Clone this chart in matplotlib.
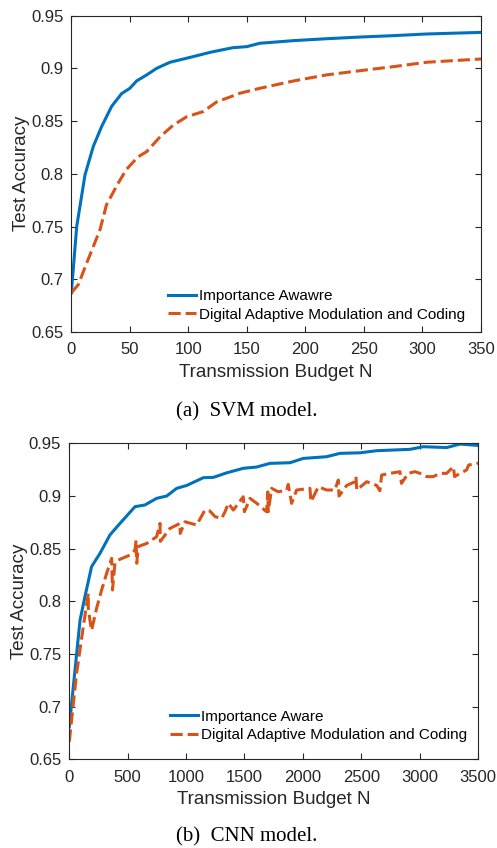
import matplotlib
matplotlib.use("Agg")
import matplotlib.pyplot as plt

# SVM model (top panel)
svm_n_aware = [0, 4.6, 11.7, 18.8, 26, 34.5, 43, 50, 55.8, 64.4, 73, 84.3, 104, 118.5, 138, 150, 161, 190, 218, 246.6, 275, 303.6, 350]
svm_acc_aware = [0.687, 0.75, 0.799, 0.826, 0.845, 0.864, 0.876, 0.881, 0.888, 0.8937, 0.900, 0.9057, 0.911, 0.9151, 0.9195, 0.9205, 0.9237, 0.9262, 0.928, 0.9296, 0.9309, 0.9325, 0.934]
svm_n_digital = [0, 6, 13, 18.8, 24.5, 30, 40, 47, 57, 64.4, 75.8, 87, 98.5, 112.8, 124, 144, 161, 190, 218, 246.6, 275, 303.6, 350]
svm_acc_digital = [0.687, 0.695, 0.715, 0.731, 0.747, 0.7705, 0.791, 0.804, 0.816, 0.821, 0.835, 0.846, 0.854, 0.859, 0.868, 0.8763, 0.881, 0.888, 0.8937, 0.8977, 0.9015, 0.9057, 0.9088]

# CNN model (bottom panel)
cnn_n_aware = [0, 49, 92, 134, 191, 263, 348, 434, 563, 648, 748, 834, 920, 1005, 1148, 1234, 1348, 1490, 1604, 1719, 1890, 2004, 2204, 2318, 2490, 2632, 2918, 3032, 3232, 3346, 3500]
cnn_acc_aware = [0.681, 0.735, 0.782, 0.8045, 0.833, 0.8456, 0.863, 0.874, 0.8899, 0.8915, 0.8978, 0.900, 0.9073, 0.910, 0.9174, 0.9177, 0.922, 0.9263, 0.9275, 0.931, 0.9316, 0.9357, 0.9373, 0.9405, 0.941, 0.943, 0.9443, 0.9468, 0.946, 0.9493, 0.948]
cnn_n_digital = [0, 63, 120, 163, 163, 177, 191, 234, 277, 320, 363, 370, 391, 420, 520, 563, 572, 578, 590,
                 663, 748, 777, 780, 862, 948, 950, 991, 1091, 1162, 1205, 1248, 1305, 1334, 1362, 1405, 1490, 1500,
                 1548, 1605, 1690, 1700, 1704, 1733, 1790, 1862, 1875, 1904, 1947, 2061, 2070, 2133, 2204, 2275,
                 2304, 2310, 2375, 2447, 2455, 2462, 2547, 2633, 2660, 2675, 2746, 2832, 2845, 2903, 2960, 3003,
                 3061, 3117, 3175, 3232, 3289, 3300, 3346, 3403, 3420, 3489, 3500]
cnn_acc_digital = [0.667, 0.732, 0.776, 0.8077, 0.7937, 0.782, 0.7725, 0.7935, 0.8108, 0.8267, 0.8409, 0.8108, 0.8362, 0.8393, 0.844, 0.8488, 0.8582, 0.8362, 0.852,
                   0.855, 0.8614, 0.874, 0.857, 0.8693, 0.874, 0.8645, 0.8756, 0.8725, 0.8867, 0.8857, 0.8804, 0.8788, 0.8851, 0.8931, 0.8867, 0.8993, 0.8851,
                   0.8978, 0.8931, 0.885, 0.904, 0.885, 0.9073, 0.904, 0.9057, 0.911, 0.893, 0.9057, 0.9073, 0.8946,
                   0.9088, 0.9057, 0.9057, 0.9152, 0.900, 0.910, 0.9136, 0.9184, 0.9057, 0.9136, 0.910, 0.905, 0.9199,
                   0.9215, 0.9231, 0.912, 0.9215, 0.9231, 0.9215, 0.9184, 0.9184, 0.9215, 0.9215, 0.9278, 0.9184,
                   0.9215, 0.9247, 0.9294, 0.931, 0.931]

blue = '#0072BD'
orange = '#D95319'
dark = '#262626'

plt.rcParams['font.family'] = ['Liberation Sans', 'DejaVu Sans']

fig = plt.figure(figsize=(4.97, 8.48), dpi=100)
ax1 = fig.add_axes([0.1435, 0.6085, 0.8243, 0.3732])
ax2 = fig.add_axes([0.1394, 0.1044, 0.8223, 0.3728])


def style(ax, xmax, xticks):
    ax.set_xlim(0, xmax)
    ax.set_ylim(0.65, 0.95)
    ax.set_xticks(xticks)
    ax.set_yticks([0.65, 0.7, 0.75, 0.8, 0.85, 0.9, 0.95])
    ax.set_yticklabels(['0.65', '0.7', '0.75', '0.8', '0.85', '0.9', '0.95'])
    ax.tick_params(direction='in', top=True, right=True, length=4, width=0.8,
                   colors=dark, labelsize=12)
    ax.tick_params(axis='x', pad=7.5)
    ax.tick_params(axis='y', pad=5.8)
    for s in ax.spines.values():
        s.set_color(dark)
        s.set_linewidth(0.8)
    ax.set_xlabel('Transmission Budget N', fontsize=13.5, color=dark, labelpad=4.5)
    ax.set_ylabel('Test Accuracy', fontsize=13.5, color=dark, labelpad=0.5)


ax1.plot(svm_n_aware, svm_acc_aware, color=blue, lw=2.2, label='Importance Awawre')
ax1.plot(svm_n_digital, svm_acc_digital, color=orange, lw=2.2, ls=(0, (4, 1.6)),
         label='Digital Adaptive Modulation and Coding')
style(ax1, 350, [0, 50, 100, 150, 200, 250, 300, 350])
ax1.legend(loc='upper left', bbox_to_anchor=(0.236, 0.136), frameon=False, fontsize=11,
           handlelength=1.85, handletextpad=0.2, labelspacing=0.3, borderpad=0, borderaxespad=0)

ax2.plot(cnn_n_aware, cnn_acc_aware, color=blue, lw=2.2, label='Importance Aware')
ax2.plot(cnn_n_digital, cnn_acc_digital, color=orange, lw=2.2, ls=(0, (4, 1.6)),
         label='Digital Adaptive Modulation and Coding')
style(ax2, 3500, [0, 500, 1000, 1500, 2000, 2500, 3000, 3500])
ax2.legend(loc='upper left', bbox_to_anchor=(0.246, 0.158), frameon=False, fontsize=11,
           handlelength=1.85, handletextpad=0.2, labelspacing=0.3, borderpad=0, borderaxespad=0)

fig.text(0.497, 1 - 416.5 / 848, '(a)  SVM model.', ha='center', va='baseline',
         family='Liberation Serif', fontsize=15, color='black')
fig.text(0.497, 1 - 841.5 / 848, '(b)  CNN model.', ha='center', va='baseline',
         family='Liberation Serif', fontsize=15, color='black')

fig.savefig('out.png', dpi=100)
